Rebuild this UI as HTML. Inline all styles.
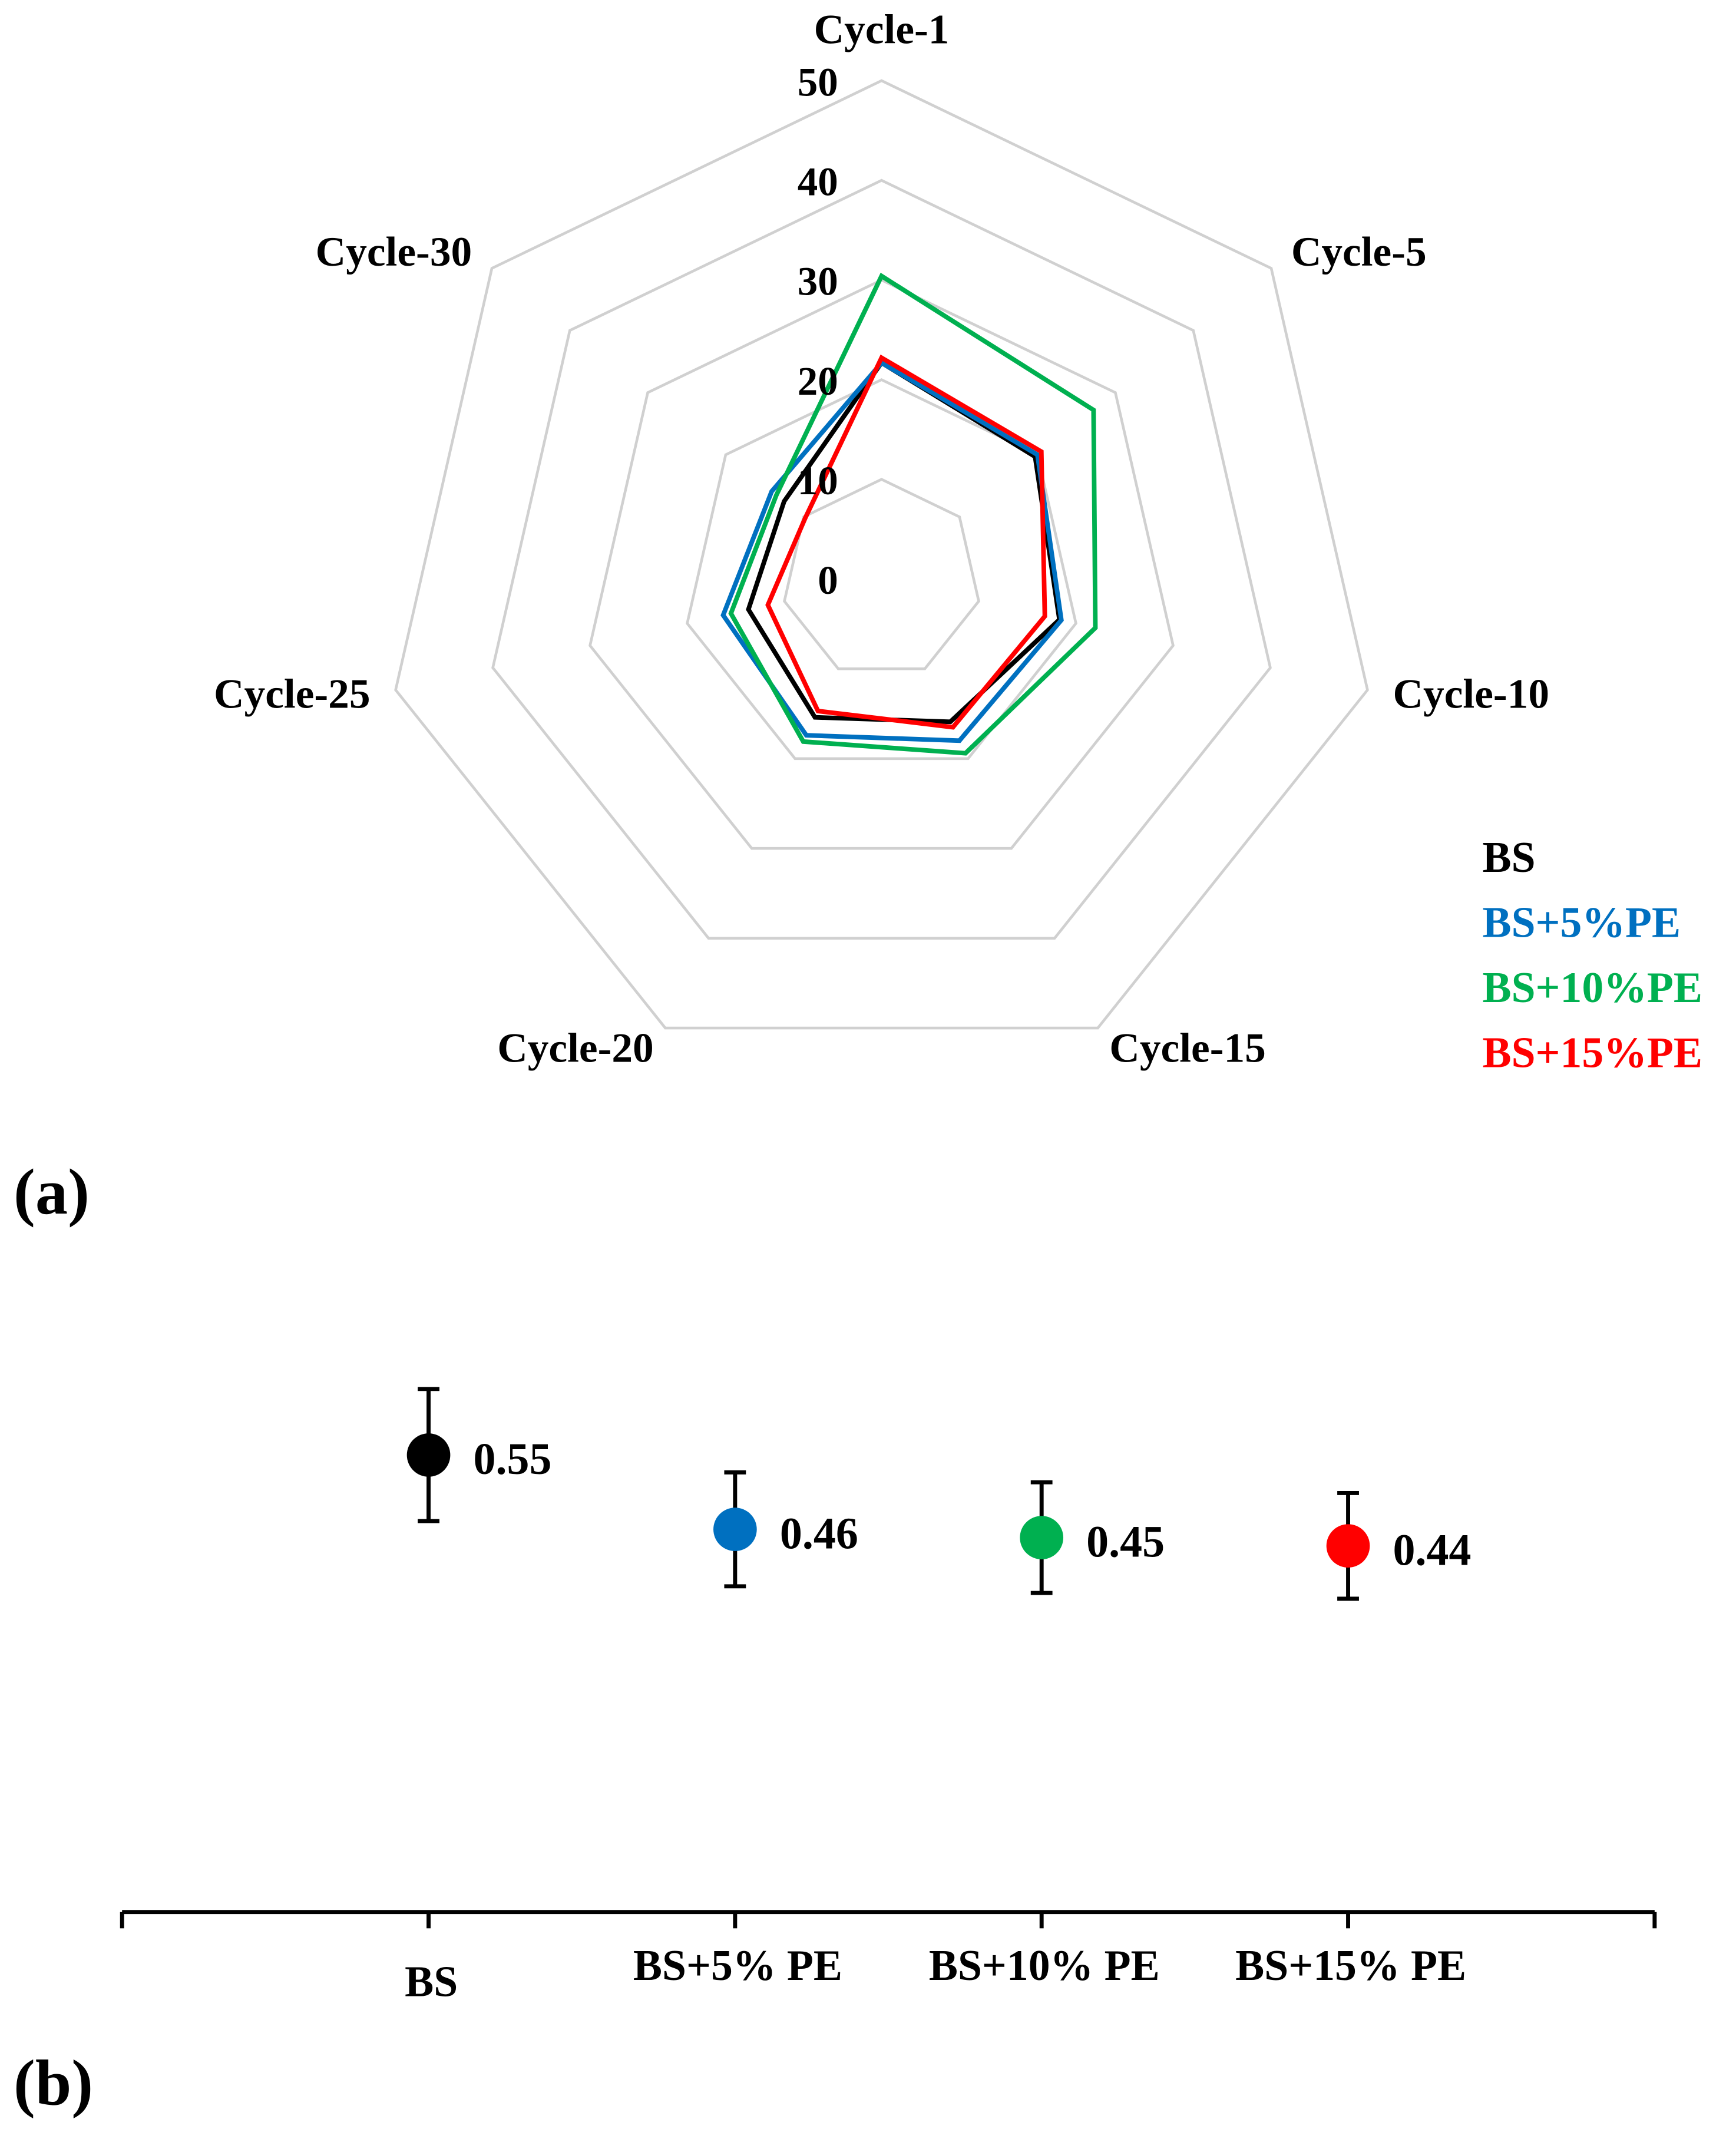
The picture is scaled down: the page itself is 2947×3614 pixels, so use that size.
<!DOCTYPE html>
<html><head><meta charset="utf-8"><style>
html,body{margin:0;padding:0;background:#fff;}
svg{display:block;}
text{font-family:"Liberation Serif",serif;font-weight:bold;}
</style></head><body>
<svg id="fig" width="2947" height="3614" viewBox="0 0 1280 1570" preserveAspectRatio="none" xmlns="http://www.w3.org/2000/svg">
<g id="radar"></g>
<g id="dots"></g>
<text x="10" y="895" font-size="48">(a)</text>
<text x="10" y="1552" font-size="48">(b)</text>
</svg>
<script>
const axesLabels=["Cycle-1","Cycle-5","Cycle-10","Cycle-15","Cycle-20","Cycle-25","Cycle-30"];
const ringTicks=[0,10,20,30,40,50];
const seriesNames=["BS","BS+5%PE","BS+10%PE","BS+15%PE"];
const bsValues=[21.7,19.7,18.3,15.9,15.4,13.7,12.5];
const pe5Values=[21.7,20.0,18.5,18.0,17.4,16.3,14.1];
const pe10Values=[30.4,27.2,22.0,19.4,18.1,15.5,13.5];
const pe15Values=[22.2,20.5,16.8,16.5,14.7,11.7,9.8];
const seriesColors=["#000000","#0070C0","#00B050","#FF0000"];

const categories=["BS","BS+5% PE","BS+10% PE","BS+15% PE"];
const meanValues=[0.55,0.46,0.45,0.44];
const errValues=[0.08,0.069,0.067,0.064];
const valueLabels=["0.55","0.46","0.45","0.44"];

const NS="http://www.w3.org/2000/svg";
function mk(tag,attrs,parent){const e=document.createElementNS(NS,tag);for(const k in attrs)e.setAttribute(k,attrs[k]);parent.appendChild(e);return e;}

// radar
const radar=document.getElementById('radar');
const cx=650,cy=427,unit=7.35;
function ang(i){return Math.PI/2-i*2*Math.PI/axesLabels.length;}
function pt(i,v){const a=ang(i);return [cx+Math.cos(a)*v*unit, cy-Math.sin(a)*v*unit];}
ringTicks.forEach(t=>{
  if(t===0)return;
  const pts=axesLabels.map((_,i)=>pt(i,t).join(',')).join(' ');
  const r=mk('polygon',{points:pts,fill:'none',stroke:'#D0D0D0','stroke-width':2},radar);
  
  
});
const seriesData=[bsValues,pe5Values,pe10Values,pe15Values];
seriesData.forEach((vals,s)=>{
  const pts=vals.map((v,i)=>pt(i,v).join(',')).join(' ');
  const p=mk('polygon',{points:pts,fill:'none',stroke:seriesColors[s],'stroke-width':3.4,'stroke-linejoin':'miter'},radar);
  
  
});
ringTicks.forEach(t=>{
  const tx=mk('text',{x:618,y:cy-t*unit+11,'font-size':30,'text-anchor':'end'},radar);
  tx.textContent=t;
  
  
});
const labelPos=[[650,32,'middle'],[952,196,'start'],[1027,522,'start'],[818,783,'start'],[482,783,'end'],[273,522,'end'],[348,196,'end']];
axesLabels.forEach((l,i)=>{
  const [x,y,an]=labelPos[i];
  const tx=mk('text',{x:x,y:y,'font-size':31,'text-anchor':an},radar);
  tx.textContent=l;
  
  
});
seriesNames.forEach((n,s)=>{
  const tx=mk('text',{x:1093,y:643+s*48,'font-size':32,fill:seriesColors[s]},radar);
  tx.textContent=n;
  
  
});

// dot chart
const dots=document.getElementById('dots');
const x0=90,x1=1220,axisY=1410;
function xPos(i){return x0+(x1-x0)*(i+1)/(categories.length+1);}
function yPos(v){return 1073+(0.55-v)*609;}
const ax=mk('line',{x1:x0,y1:axisY,x2:x1,y2:axisY,stroke:'#000','stroke-width':3},dots);


for(let i=0;i<=categories.length+1;i++){
  const x=x0+(x1-x0)*i/(categories.length+1);
  const t=mk('line',{x1:x,y1:axisY,x2:x,y2:axisY+12,stroke:'#000','stroke-width':3},dots);
  
  
}
categories.forEach((c,i)=>{
  const x=xPos(i),y=yPos(meanValues[i]);
  const top=yPos(meanValues[i]+errValues[i]),bot=yPos(meanValues[i]-errValues[i]);
  const g=mk('g',{},dots);
  
  
  mk('line',{x1:x,y1:top,x2:x,y2:bot,stroke:'#000','stroke-width':3},g);
  mk('line',{x1:x-8,y1:top,x2:x+8,y2:top,stroke:'#000','stroke-width':3},g);
  mk('line',{x1:x-8,y1:bot,x2:x+8,y2:bot,stroke:'#000','stroke-width':3},g);
  const c1=mk('circle',{cx:x,cy:y,r:16,fill:seriesColors[i]},dots);
  
  
  const vl=mk('text',{x:x+33,y:y+14,'font-size':33},dots);
  vl.textContent=valueLabels[i];
  
  
  const cl=mk('text',{x:x+2,y:i===0?1472:1460,'font-size':32,'text-anchor':'middle'},dots);
  cl.textContent=c;
  
  
});
</script>
</body></html>
